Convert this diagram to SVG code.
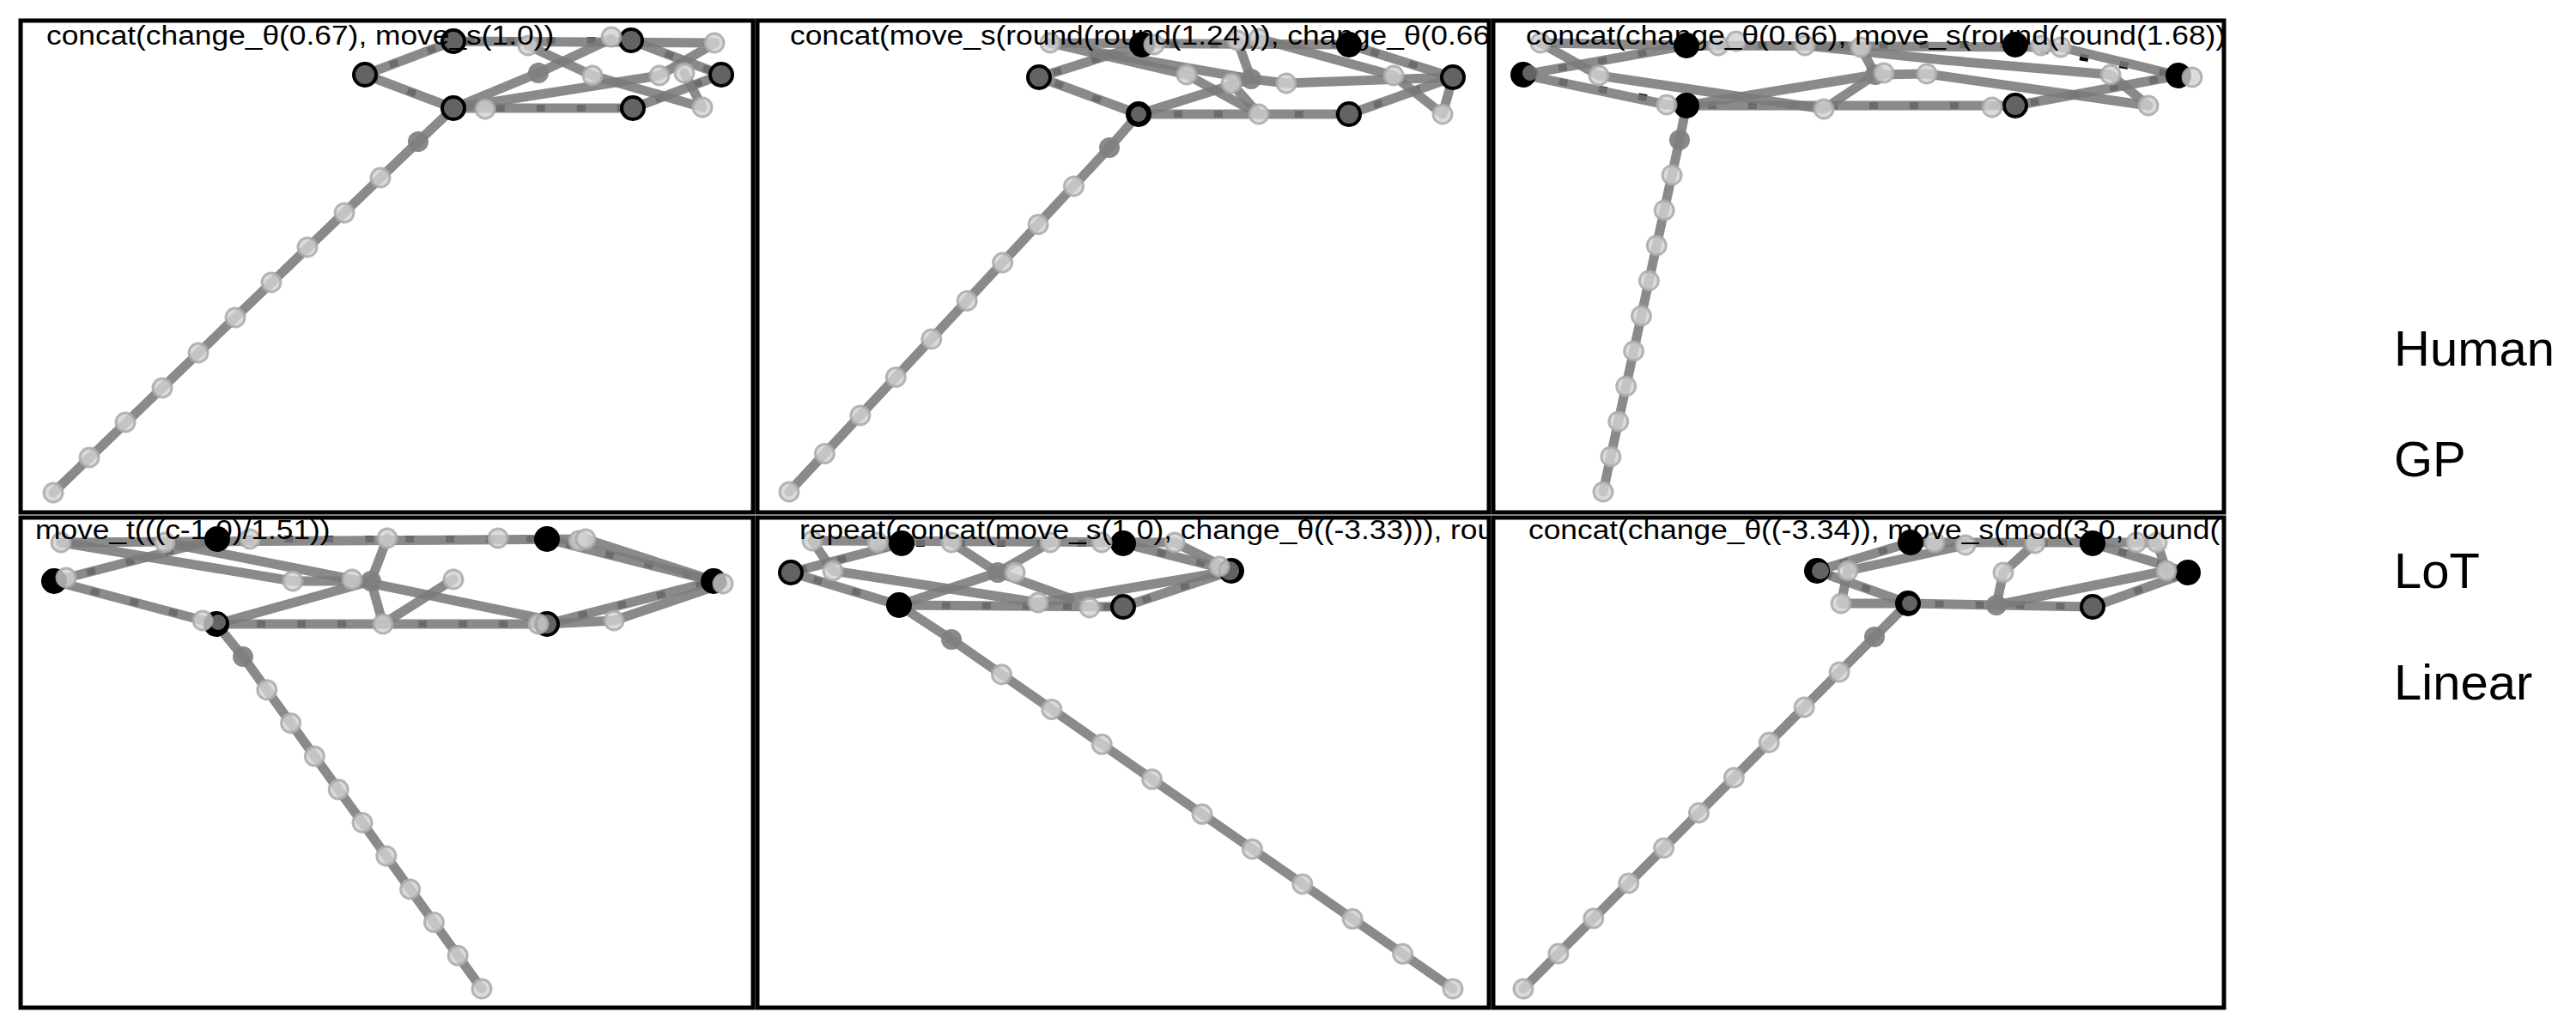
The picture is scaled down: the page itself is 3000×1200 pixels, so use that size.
<svg xmlns="http://www.w3.org/2000/svg" width="3000" height="1200" viewBox="0 0 3000 1200">
<style>
.frame{fill:none;stroke:#000;stroke-width:5}
.hline{fill:none;stroke:#000;stroke-width:8;stroke-dasharray:10 37}
.model{fill:none;stroke:#7a7a7a;stroke-width:11;stroke-opacity:0.88;stroke-linejoin:round;stroke-linecap:round}
.hum{fill:#000}
.fit{fill:#6e6e6e;fill-opacity:0.9}
.med{fill:#7f7f7f;fill-opacity:0.92}
.lt{fill:#d2d2d2;fill-opacity:0.8;stroke:#a9a9a9;stroke-width:3;stroke-opacity:0.85}
.title{font-family:"Liberation Sans",Arial,sans-serif;font-size:31px;fill:#000}
.lab{font-family:"Liberation Sans",Arial,sans-serif;font-size:58px;fill:#000}
</style>
<defs>
<clipPath id="c1"><rect x="24" y="24" width="853" height="573"/></clipPath>
<clipPath id="c2"><rect x="882" y="24" width="852" height="573"/></clipPath>
<clipPath id="c3"><rect x="1739" y="24" width="851" height="573"/></clipPath>
<clipPath id="c4"><rect x="24" y="603" width="853" height="571"/></clipPath>
<clipPath id="c5"><rect x="882" y="603" width="852" height="571"/></clipPath>
<clipPath id="c6"><rect x="1739" y="603" width="851" height="571"/></clipPath>
</defs>
<rect width="3000" height="1200" fill="#fff"/>

<g id="panel-1">
<g clip-path="url(#c1)">
<g id="connectors-1">
<path class="hline" d="M528,126 L425,87 L528,48 L735,47 L840,87 L737,126 Z"/>
<path class="model" d="M62,574 L487,165 L528,126 L425,87 L528,48 L833,50 L768,88 L528,126"/>
<path class="model" d="M528,126 L627,85 L712,45"/>
<path class="model" d="M615,53 L690,88 L818,125 L797,85"/>
<path class="model" d="M528,126 L737,126 L840,87 L735,47"/>
</g>
<g id="markers-1">
<circle class="hum" cx="425" cy="87" r="15"/><circle class="hum" cx="528" cy="48" r="15"/><circle class="hum" cx="735" cy="47" r="15"/><circle class="hum" cx="840" cy="87" r="15"/><circle class="hum" cx="737" cy="126" r="15"/><circle class="hum" cx="528" cy="126" r="15"/>
<circle class="fit" cx="425" cy="87" r="11"/><circle class="fit" cx="528" cy="48" r="11"/><circle class="fit" cx="735" cy="47" r="11"/><circle class="fit" cx="840" cy="87" r="11"/><circle class="fit" cx="737" cy="126" r="11"/><circle class="fit" cx="528" cy="126" r="11"/>
<circle class="med" cx="487" cy="165" r="12"/><circle class="med" cx="627" cy="85" r="12"/>
<circle class="lt" cx="615" cy="53" r="11"/><circle class="lt" cx="712" cy="43" r="11"/><circle class="lt" cx="832" cy="50" r="11"/><circle class="lt" cx="690" cy="88" r="11"/><circle class="lt" cx="768" cy="88" r="11"/><circle class="lt" cx="797" cy="85" r="11"/><circle class="lt" cx="818" cy="125" r="11"/><circle class="lt" cx="565" cy="127" r="11"/>
<circle class="lt" cx="62" cy="574" r="11"/><circle class="lt" cx="104" cy="533" r="11"/><circle class="lt" cx="146" cy="492" r="11"/><circle class="lt" cx="189" cy="452" r="11"/><circle class="lt" cx="231" cy="411" r="11"/><circle class="lt" cx="274" cy="370" r="11"/><circle class="lt" cx="316" cy="329" r="11"/><circle class="lt" cx="358" cy="288" r="11"/><circle class="lt" cx="401" cy="248" r="11"/><circle class="lt" cx="443" cy="207" r="11"/>
</g>
<text class="title" transform="translate(54,52) scale(1.14,1)">concat(change_θ(0.67), move_s(1.0))</text>
</g>
<rect class="frame" x="24" y="24" width="853" height="573"/>
</g>

<g id="panel-2">
<g clip-path="url(#c2)">
<g id="connectors-2">
<path class="hline" d="M1326,133 L1210,90 L1330,52 L1571,52 L1692,90 L1571,133 Z"/>
<path class="model" d="M919,573 L1292,172 L1326,133 L1210,90 L1330,52"/>
<path class="model" d="M1223,50 L1571,52 L1692,90 L1571,133 L1326,133"/>
<path class="model" d="M1223,50 L1382,87 L1466,133"/>
<path class="model" d="M1326,133 L1457,92 L1441,47"/>
<path class="model" d="M1434,97 L1466,133"/>
<path class="model" d="M1273,60 L1457,92 L1498,97 L1692,90"/>
<path class="model" d="M1466,45 L1623,88 L1680,133 L1692,90"/>
</g>
<g id="markers-2">
<circle class="hum" cx="1210" cy="90" r="15"/><circle class="hum" cx="1330" cy="52" r="15"/><circle class="hum" cx="1571" cy="52" r="15"/><circle class="hum" cx="1692" cy="90" r="15"/><circle class="hum" cx="1571" cy="133" r="15"/><circle class="hum" cx="1326" cy="133" r="15"/>
<circle class="fit" cx="1210" cy="90" r="11"/><circle class="fit" cx="1692" cy="90" r="11"/><circle class="fit" cx="1571" cy="133" r="11"/><circle class="fit" cx="1326" cy="133" r="9"/>
<circle class="med" cx="1292" cy="172" r="12"/><circle class="med" cx="1457" cy="92" r="12"/>
<circle class="lt" cx="1223" cy="50" r="11"/><circle class="lt" cx="1344" cy="52" r="11"/><circle class="lt" cx="1382" cy="87" r="11"/><circle class="lt" cx="1434" cy="97" r="11"/><circle class="lt" cx="1466" cy="133" r="11"/><circle class="lt" cx="1498" cy="97" r="11"/><circle class="lt" cx="1623" cy="88" r="11"/><circle class="lt" cx="1680" cy="133" r="11"/><circle class="lt" cx="1441" cy="47" r="11"/><circle class="lt" cx="1466" cy="45" r="11"/>
<circle class="lt" cx="919" cy="573" r="11"/><circle class="lt" cx="960.4" cy="528.5" r="11"/><circle class="lt" cx="1001.9" cy="484" r="11"/><circle class="lt" cx="1043.3" cy="439.5" r="11"/><circle class="lt" cx="1084.8" cy="395" r="11"/><circle class="lt" cx="1126.2" cy="350.5" r="11"/><circle class="lt" cx="1167.6" cy="306" r="11"/><circle class="lt" cx="1209.1" cy="261.5" r="11"/><circle class="lt" cx="1250.5" cy="217" r="11"/>
</g>
<text class="title" transform="translate(920,52) scale(1.14,1)">concat(move_s(round(round(1.24))), change_θ(0.66</text>
</g>
<rect class="frame" x="882" y="24" width="852" height="573"/>
</g>

<g id="panel-3">
<g clip-path="url(#c3)">
<g id="connectors-3">
<path class="hline" d="M1964,123 L1774,87 L1964,53 L2347,52 L2537,88 L2347,123 Z"/>
<path class="model" d="M1867,573 L1956,163 L1964,123 L1941,122 L1774,87 L1964,53 L2400,55 L2537,88 L2347,123 L1964,123"/>
<path class="model" d="M1794,50 L1862,88 L2124,127 L2184,87"/>
<path class="model" d="M1964,123 L2184,87 L2244,86 L2502,123"/>
<path class="model" d="M2102,53 L2264,70 L2458,87 L2502,123"/>
<path class="model" d="M2167,55 L2184,87"/>
<path class="model" d="M1794,50 L1964,53"/>
</g>
<g id="markers-3">
<circle class="hum" cx="1774" cy="87" r="15"/><circle class="hum" cx="1964" cy="53" r="15"/><circle class="hum" cx="2347" cy="52" r="15"/><circle class="hum" cx="2537" cy="88" r="15"/><circle class="hum" cx="2347" cy="123" r="15"/><circle class="hum" cx="1964" cy="123" r="15"/>
<circle class="fit" cx="2347" cy="123" r="11"/><circle class="fit" cx="1782" cy="85" r="9"/>
<circle class="med" cx="2184" cy="87" r="12"/><circle class="med" cx="1956" cy="163" r="12"/>
<circle class="lt" cx="1794" cy="50" r="11"/><circle class="lt" cx="1862" cy="88" r="11"/><circle class="lt" cx="1941" cy="122" r="11"/><circle class="lt" cx="2001" cy="53" r="11"/><circle class="lt" cx="2022" cy="48" r="11"/><circle class="lt" cx="2102" cy="53" r="11"/><circle class="lt" cx="2124" cy="127" r="11"/><circle class="lt" cx="2167" cy="55" r="11"/><circle class="lt" cx="2194" cy="85" r="11"/><circle class="lt" cx="2244" cy="86" r="11"/><circle class="lt" cx="2377" cy="53" r="11"/><circle class="lt" cx="2400" cy="55" r="11"/><circle class="lt" cx="2458" cy="87" r="11"/><circle class="lt" cx="2502" cy="123" r="11"/><circle class="lt" cx="2320" cy="125" r="11"/><circle class="lt" cx="2553" cy="90" r="11"/>
<circle class="lt" cx="1867" cy="573" r="11"/><circle class="lt" cx="1875.9" cy="532" r="11"/><circle class="lt" cx="1884.8" cy="491" r="11"/><circle class="lt" cx="1893.7" cy="450" r="11"/><circle class="lt" cx="1902.6" cy="409" r="11"/><circle class="lt" cx="1911.5" cy="368" r="11"/><circle class="lt" cx="1920.4" cy="327" r="11"/><circle class="lt" cx="1929.3" cy="286" r="11"/><circle class="lt" cx="1938.2" cy="245" r="11"/><circle class="lt" cx="1947.1" cy="204" r="11"/>
</g>
<text class="title" transform="translate(1777,52) scale(1.14,1)">concat(change_θ(0.66), move_s(round(round(1.68))</text>
</g>
<rect class="frame" x="1739" y="24" width="851" height="573"/>
</g>

<g id="panel-4">
<g clip-path="url(#c4)">
<g id="connectors-4">
<path class="hline" d="M252,727 L63,677 L253,628 L637,628 L831,677 L637,727 Z"/>
<path class="model" d="M561,1152 L283,765 L252,727 L63,677 L253,628"/>
<path class="model" d="M71,632 L682,628 L842,680 L715,723 L637,727"/>
<path class="model" d="M637,628 L831,677 L637,727 L252,727"/>
<path class="model" d="M71,632 L341,677 L432,677"/>
<path class="model" d="M192,632 L410,675 L637,722"/>
<path class="model" d="M252,727 L432,677 L451,627"/>
<path class="model" d="M432,677 L446,727 L528,675"/>
</g>
<g id="markers-4">
<circle class="hum" cx="63" cy="677" r="15"/><circle class="hum" cx="253" cy="628" r="15"/><circle class="hum" cx="637" cy="628" r="15"/><circle class="hum" cx="831" cy="677" r="15"/><circle class="hum" cx="637" cy="727" r="15"/><circle class="hum" cx="252" cy="727" r="15"/>
<circle class="fit" cx="637" cy="727" r="11"/><circle class="fit" cx="254" cy="725" r="9"/>
<circle class="med" cx="432" cy="677" r="12"/><circle class="med" cx="283" cy="765" r="12"/>
<circle class="lt" cx="71" cy="632" r="11"/><circle class="lt" cx="192" cy="632" r="11"/><circle class="lt" cx="291" cy="628" r="11"/><circle class="lt" cx="451" cy="627" r="11"/><circle class="lt" cx="580" cy="627" r="11"/><circle class="lt" cx="674" cy="630" r="11"/><circle class="lt" cx="682" cy="628" r="11"/><circle class="lt" cx="341" cy="677" r="11"/><circle class="lt" cx="410" cy="675" r="11"/><circle class="lt" cx="528" cy="675" r="11"/><circle class="lt" cx="77" cy="673" r="11"/><circle class="lt" cx="842" cy="680" r="11"/><circle class="lt" cx="715" cy="723" r="11"/><circle class="lt" cx="446" cy="727" r="11"/><circle class="lt" cx="627" cy="727" r="11"/><circle class="lt" cx="236" cy="723" r="11"/>
<circle class="lt" cx="310.8" cy="803.7" r="11"/><circle class="lt" cx="338.6" cy="842.4" r="11"/><circle class="lt" cx="366.4" cy="881.1" r="11"/><circle class="lt" cx="394.2" cy="919.8" r="11"/><circle class="lt" cx="422" cy="958.5" r="11"/><circle class="lt" cx="449.8" cy="997.2" r="11"/><circle class="lt" cx="477.6" cy="1035.9" r="11"/><circle class="lt" cx="505.4" cy="1074.6" r="11"/><circle class="lt" cx="533.2" cy="1113.3" r="11"/><circle class="lt" cx="561" cy="1152" r="11"/>
</g>
<text class="title" transform="translate(41,628) scale(1.14,1)">move_t(((c-1.0)/1.51))</text>
</g>
<rect class="frame" x="24" y="603" width="853" height="571"/>
</g>

<g id="panel-5">
<g clip-path="url(#c5)">
<g id="connectors-5" transform="translate(-4,0)">
<path class="hline" d="M1051,705 L925,667 L1054,633 L1312,633 L1438,665 L1312,707 Z"/>
<path class="model" d="M1696,1152 L1112,745 L1051,705 L925,667 L1054,633"/>
<path class="model" d="M950,630 L1372,632 L1438,665 L1312,707 L1051,705"/>
<path class="model" d="M950,630 L974,665 L1213,702 L1250,697 L1438,665"/>
<path class="model" d="M1112,632 L1166,667 L1250,697"/>
<path class="model" d="M1227,632 L1166,667 L1051,705"/>
<path class="model" d="M1312,633 L1438,665"/>
</g>
<g id="markers-5" transform="translate(-4,0)">
<circle class="hum" cx="925" cy="667" r="15"/><circle class="hum" cx="1054" cy="633" r="15"/><circle class="hum" cx="1312" cy="633" r="15"/><circle class="hum" cx="1438" cy="665" r="15"/><circle class="hum" cx="1312" cy="707" r="15"/><circle class="hum" cx="1051" cy="705" r="15"/>
<circle class="fit" cx="925" cy="667" r="11"/><circle class="fit" cx="1312" cy="707" r="11"/><circle class="fit" cx="1436" cy="665" r="11"/>
<circle class="med" cx="1166" cy="667" r="12"/><circle class="med" cx="1112" cy="745" r="12"/>
<circle class="lt" cx="950" cy="630" r="11"/><circle class="lt" cx="974" cy="665" r="11"/><circle class="lt" cx="1026" cy="632" r="11"/><circle class="lt" cx="1112" cy="632" r="11"/><circle class="lt" cx="1186" cy="667" r="11"/><circle class="lt" cx="1213" cy="702" r="11"/><circle class="lt" cx="1227" cy="632" r="11"/><circle class="lt" cx="1273" cy="708" r="11"/><circle class="lt" cx="1287" cy="632" r="11"/><circle class="lt" cx="1372" cy="632" r="11"/><circle class="lt" cx="1424" cy="660" r="11"/>
<circle class="lt" cx="1170.4" cy="785.7" r="11"/><circle class="lt" cx="1228.8" cy="826.4" r="11"/><circle class="lt" cx="1287.2" cy="867.1" r="11"/><circle class="lt" cx="1345.6" cy="907.8" r="11"/><circle class="lt" cx="1404" cy="948.5" r="11"/><circle class="lt" cx="1462.4" cy="989.2" r="11"/><circle class="lt" cx="1520.8" cy="1029.9" r="11"/><circle class="lt" cx="1579.2" cy="1070.6" r="11"/><circle class="lt" cx="1637.6" cy="1111.3" r="11"/><circle class="lt" cx="1696" cy="1152" r="11"/>
</g>
<text class="title" transform="translate(931,628) scale(1.14,1)">repeat(concat(move_s(1.0), change_θ((-3.33))), rou</text>
</g>
<rect class="frame" x="882" y="603" width="852" height="571"/>
</g>

<g id="panel-6">
<g clip-path="url(#c6)">
<g id="connectors-6" transform="translate(-9,0)">
<path class="hline" d="M2231,703 L2125,665 L2234,632 L2446,633 L2557,667 L2446,707 Z"/>
<path class="model" d="M1783,1152 L2192,742 L2231,703 L2125,665 L2234,632 L2521,632 L2532,665"/>
<path class="model" d="M2161,665 L2298,635"/>
<path class="model" d="M2161,665 L2153,703 L2231,703 L2446,707 L2557,667 L2446,633"/>
<path class="model" d="M2334,705 L2342,667 L2379,633"/>
<path class="model" d="M2334,705 L2532,665 L2557,667"/>
</g>
<g id="markers-6" transform="translate(-9,0)">
<circle class="hum" cx="2125" cy="665" r="15"/><circle class="hum" cx="2234" cy="632" r="15"/><circle class="hum" cx="2446" cy="633" r="15"/><circle class="hum" cx="2557" cy="667" r="15"/><circle class="hum" cx="2446" cy="707" r="15"/><circle class="hum" cx="2231" cy="703" r="15"/>
<circle class="fit" cx="2446" cy="707" r="11"/><circle class="fit" cx="2129" cy="665" r="10"/><circle class="fit" cx="2233" cy="703" r="9"/>
<circle class="med" cx="2334" cy="705" r="12"/><circle class="med" cx="2192" cy="742" r="12"/>
<circle class="lt" cx="2161" cy="665" r="11"/><circle class="lt" cx="2153" cy="703" r="11"/><circle class="lt" cx="2298" cy="635" r="11"/><circle class="lt" cx="2262" cy="632" r="11"/><circle class="lt" cx="2342" cy="667" r="11"/><circle class="lt" cx="2379" cy="633" r="11"/><circle class="lt" cx="2497" cy="632" r="11"/><circle class="lt" cx="2521" cy="632" r="11"/><circle class="lt" cx="2532" cy="665" r="11"/>
<circle class="lt" cx="2151.1" cy="783" r="11"/><circle class="lt" cx="2110.2" cy="824" r="11"/><circle class="lt" cx="2069.3" cy="865" r="11"/><circle class="lt" cx="2028.4" cy="906" r="11"/><circle class="lt" cx="1987.5" cy="947" r="11"/><circle class="lt" cx="1946.6" cy="988" r="11"/><circle class="lt" cx="1905.7" cy="1029" r="11"/><circle class="lt" cx="1864.8" cy="1070" r="11"/><circle class="lt" cx="1823.9" cy="1111" r="11"/><circle class="lt" cx="1783" cy="1152" r="11"/>
</g>
<text class="title" transform="translate(1780,628) scale(1.14,1)">concat(change_θ((-3.34)), move_s(mod(3.0, round(</text>
</g>
<rect class="frame" x="1739" y="603" width="851" height="571"/>
</g>

<g id="legend">
<text class="lab" x="2788" y="426">Human</text>
<text class="lab" x="2788" y="555">GP</text>
<text class="lab" x="2788" y="685">LoT</text>
<text class="lab" x="2788" y="815">Linear</text>
</g>
</svg>
